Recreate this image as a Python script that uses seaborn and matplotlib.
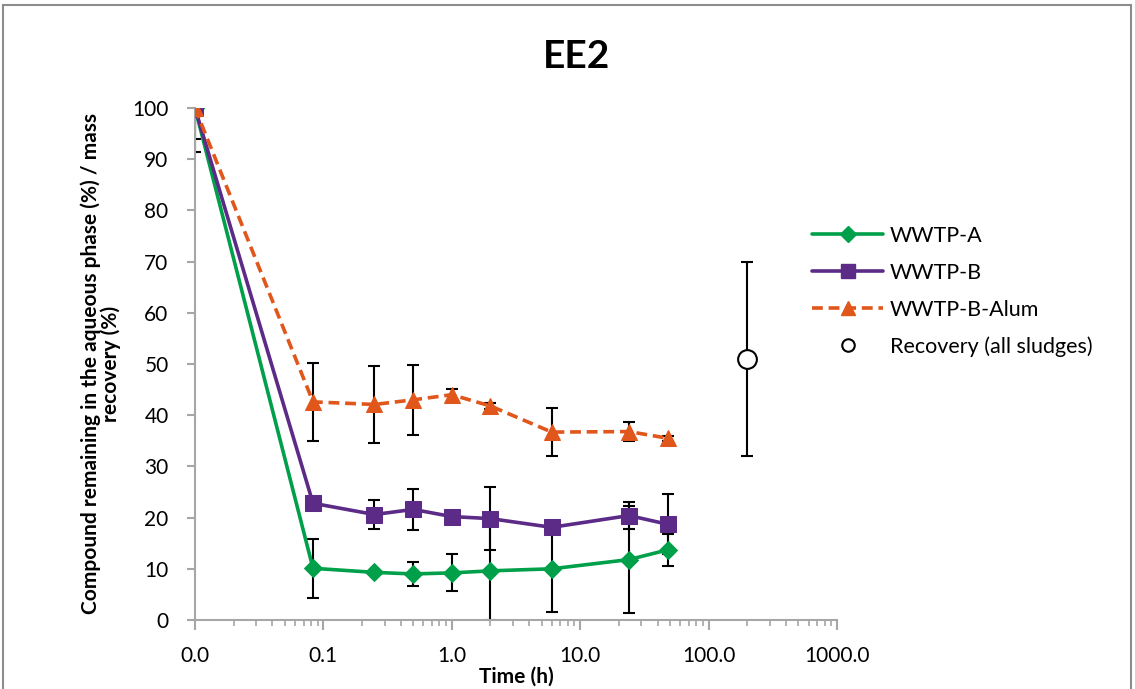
import matplotlib
matplotlib.use("Agg")
import matplotlib.pyplot as plt
from matplotlib.ticker import FixedLocator, LogLocator, NullFormatter, FuncFormatter
from matplotlib.lines import Line2D
from matplotlib.patches import Rectangle
import numpy as np
import pandas as pd
import seaborn as sns

# Sampling times (h); time zero is placed at 0.01 on the log axis
time_h = [0.01, 0.083, 0.25, 0.5, 1, 2, 6, 24, 48]

wwtp_a = [100, 10.1, 9.3, 9.0, 9.2, 9.6, 10.0, 11.8, 13.7]
wwtp_a_err = [8.6, 5.8, 0.0, 2.3, 3.6, 9.6, 8.5, 10.4, 3.1]

wwtp_b = [100, 22.8, 20.6, 21.6, 20.2, 19.8, 18.1, 20.4, 18.7]
wwtp_b_err = [6.0, 0.0, 2.8, 4.0, 0.0, 6.2, 0.0, 2.7, 5.9]

wwtp_b_alum = [100, 42.6, 42.1, 43.0, 44.0, 41.8, 36.7, 36.8, 35.5]
wwtp_b_alum_err = [0.0, 7.6, 7.5, 6.8, 1.2, 0.5, 4.7, 1.8, 0.5]

recovery_time = [200]
recovery = [51.0]
recovery_err = [19.0]

series_names = ["WWTP-A", "WWTP-B", "WWTP-B-Alum"]
series_colors = ["#00A04A", "#5C2A87", "#E0561B"]

df = pd.DataFrame({
    "Time (h)": time_h * 3,
    "value": wwtp_a + wwtp_b + wwtp_b_alum,
    "err": wwtp_a_err + wwtp_b_err + wwtp_b_alum_err,
    "series": sum([[n] * len(time_h) for n in series_names], []),
})

sns.set_theme(style="white")
plt.rcParams["font.family"] = ["Lato", "DejaVu Sans"]
plt.rcParams["text.color"] = "black"
plt.rcParams["axes.labelcolor"] = "black"
plt.rcParams["xtick.labelcolor"] = "black"
plt.rcParams["ytick.labelcolor"] = "black"

fig = plt.figure(figsize=(11.35, 6.89), dpi=100)
ax = fig.add_axes([195 / 1135, 1 - 620 / 689, (837 - 195) / 1135, (620 - 108) / 689])
ax.set_xscale("log")

markers = {"WWTP-A": "D", "WWTP-B": "s", "WWTP-B-Alum": "^"}
msizes = {"WWTP-A": 9, "WWTP-B": 12, "WWTP-B-Alum": 12}
styles = {"WWTP-A": "-", "WWTP-B": "-", "WWTP-B-Alum": (0, (3, 1.6))}

for name, color in zip(series_names, series_colors):
    sub = df[df["series"] == name]
    ax.errorbar(sub["Time (h)"], sub["value"], yerr=sub["err"], fmt="none",
                ecolor="black", elinewidth=1.5, capsize=4.5, capthick=1.5, zorder=2)
    sns.lineplot(data=sub, x="Time (h)", y="value", ax=ax, color=color,
                 linewidth=2.6, linestyle=styles[name], marker=markers[name],
                 markersize=msizes[name], markeredgecolor=color,
                 markerfacecolor=color, legend=False, zorder=3)

ax.errorbar(recovery_time, recovery, yerr=recovery_err, fmt="none",
            ecolor="black", elinewidth=1.5, capsize=4.5, capthick=1.5, zorder=2)
ax.plot(recovery_time, recovery, linestyle="none", marker="o", markersize=13.5,
        markerfacecolor="white", markeredgecolor="black", markeredgewidth=1.5, zorder=4)

ax.set_xlim(0.01, 1000)
ax.set_ylim(0, 100)

axis_grey = "#A6A6A6"
for side in ["top", "right"]:
    ax.spines[side].set_visible(False)
for side in ["left", "bottom"]:
    ax.spines[side].set_color(axis_grey)
    ax.spines[side].set_linewidth(1.5)

ax.xaxis.set_major_locator(FixedLocator([0.01, 0.1, 1, 10, 100, 1000]))
ax.xaxis.set_major_formatter(FuncFormatter(lambda v, p: f"{v:.1f}"))
ax.xaxis.set_minor_locator(LogLocator(base=10, subs=np.arange(2, 10)))
ax.xaxis.set_minor_formatter(NullFormatter())
ax.set_yticks(np.arange(0, 101, 10))

ax.tick_params(axis="x", which="major", direction="out", length=7, width=1.5,
               color=axis_grey, labelcolor="black", labelsize=15, pad=12, bottom=True)
ax.tick_params(axis="x", which="minor", direction="out", length=4, width=1.2,
               color=axis_grey, bottom=True)
ax.tick_params(axis="y", which="major", direction="out", length=6, width=1.5,
               color=axis_grey, labelcolor="black", labelsize=15, pad=13, left=True)
ax.grid(False)

ax.set_xlabel("Time (h)", fontsize=15, fontweight="bold", labelpad=0, color="black")
ax.set_ylabel("Compound remaining in the aqueous phase (%) / mass\nrecovery (%)",
              fontsize=15, fontweight="bold", labelpad=8, linespacing=1.0, color="black")

fig.text(577 / 1135, 1 - 56 / 689, "EE2", fontsize=28, fontweight="bold",
         ha="center", va="center", color="black")

handles = [
    Line2D([], [], color=series_colors[0], linewidth=2.6, marker="D", markersize=8),
    Line2D([], [], color=series_colors[1], linewidth=2.6, marker="s", markersize=10),
    Line2D([], [], color=series_colors[2], linewidth=2.6, linestyle=(0, (3, 1.6)),
           marker="^", markersize=10),
    Line2D([], [], linestyle="none", marker="o", markersize=9,
           markerfacecolor="white", markeredgecolor="black", markeredgewidth=1.5),
]
leg = fig.legend(handles, series_names + ["Recovery (all sludges)"],
                 loc="upper left", bbox_to_anchor=(812 / 1135, 1 - 226 / 689),
                 frameon=False, fontsize=15.5, handlelength=3.3, handletextpad=0.3,
                 labelspacing=0.78, borderaxespad=0, borderpad=0)
for t in leg.get_texts():
    t.set_color("black")

fig.patches.append(Rectangle((3 / 1135, -0.05), (1131 - 3) / 1135, 1 - 5 / 689 + 0.05,
                             transform=fig.transFigure, fill=False,
                             edgecolor="#8C8C8C", linewidth=1.5))

fig.savefig("out.png", dpi=100)
